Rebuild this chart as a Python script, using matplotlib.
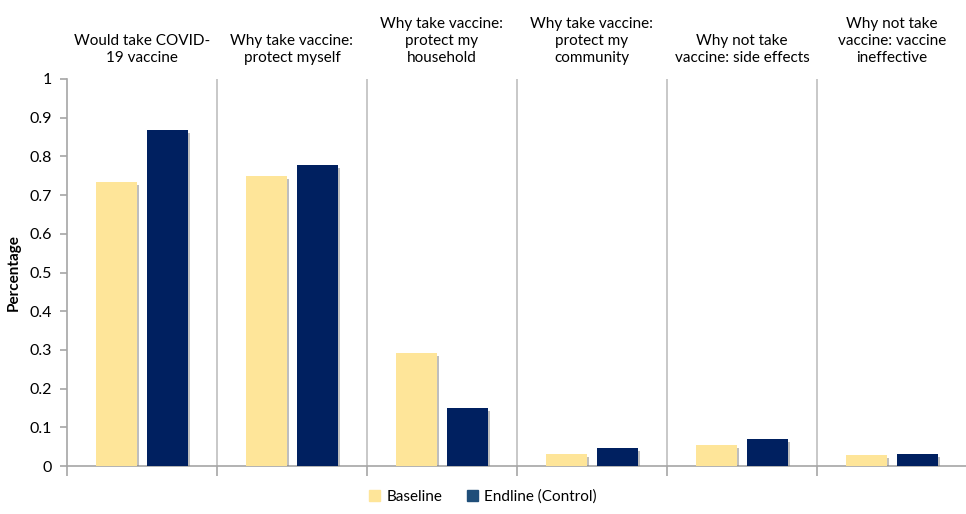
import matplotlib
matplotlib.use("Agg")
import matplotlib.pyplot as plt
import matplotlib.patheffects as pe
from matplotlib.patches import Patch
import numpy as np

categories = [
    "Would take COVID-\n19 vaccine",
    "Why take vaccine:\nprotect myself",
    "Why take vaccine:\nprotect my\nhousehold",
    "Why take vaccine:\nprotect my\ncommunity",
    "Why not take\nvaccine: side effects",
    "Why not take\nvaccine: vaccine\nineffective",
]
baseline = [0.734, 0.749, 0.292, 0.031, 0.054, 0.028]
endline = [0.868, 0.778, 0.150, 0.047, 0.070, 0.031]
series_names = ["Baseline", "Endline (Control)"]
yticks = [0, 0.1, 0.2, 0.3, 0.4, 0.5, 0.6, 0.7, 0.8, 0.9, 1]
ytick_labels = ["0", "0.1", "0.2", "0.3", "0.4", "0.5", "0.6", "0.7", "0.8", "0.9", "1"]

plt.rcParams['font.family'] = ['Lato', 'DejaVu Sans']

W, H = 966, 514
fig = plt.figure(figsize=(W / 100, H / 100), dpi=100)
ax = fig.add_axes([67 / W, 1 - 466 / H, 900 / W, (466 - 79) / H])

x = np.arange(len(categories))
bw = 0.267
off = 0.17
c_base = "#FEE599"
c_end = "#002060"
shadow = [pe.SimplePatchShadow(offset=(2, -2), shadow_rgbFace="#7F7F7F", alpha=0.5), pe.Normal()]

b1 = ax.bar(x - off, baseline, bw, color=c_base, zorder=3)
b2 = ax.bar(x + off, endline, bw, color=c_end, zorder=3)
for b in list(b1) + list(b2):
    b.set_path_effects(shadow)

ax.set_xlim(-0.5, len(categories) - 0.5)
ax.set_ylim(0, 1)
ax.set_yticks(yticks)
ax.set_yticklabels(ytick_labels, fontsize=11.5)

gray = "#A6A6A6"
for s in ["top", "right"]:
    ax.spines[s].set_visible(False)
ax.spines["left"].set_color(gray)
ax.spines["bottom"].set_color(gray)
ax.spines["left"].set_linewidth(1.2)
ax.spines["bottom"].set_linewidth(1.2)
ax.tick_params(axis="y", colors=gray, labelcolor="black", length=5, width=1.2, pad=6)

bounds = np.arange(-0.5, len(categories), 1.0)
ax.set_xticks(bounds)
ax.set_xticklabels([])
ax.tick_params(axis="x", colors=gray, length=7, width=1.2)
for bx in bounds[1:-1]:
    ax.axvline(bx, color="#BFBFBF", lw=1.2, zorder=1)

for i, lab in enumerate(categories):
    ax.text(i, 1.035, lab, ha="center", va="bottom", fontsize=11,
            linespacing=1.3, transform=ax.transData, clip_on=False)

ax.set_ylabel("Percentage", fontsize=11, fontweight="bold", labelpad=6)

handles = [Patch(color=c_base), Patch(color="#1F4E79")]
fig.legend(handles, series_names, loc="center", bbox_to_anchor=(0.5, 1 - 497 / H),
           ncol=2, frameon=False, fontsize=11, handlelength=0.75, handleheight=0.75,
           handletextpad=0.4, columnspacing=1.6)

fig.savefig("out.png", dpi=100)
